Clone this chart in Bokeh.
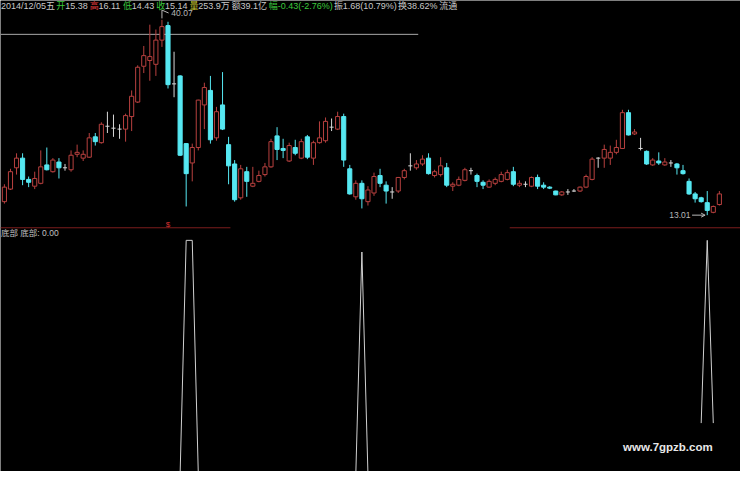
import numpy as np
from bokeh.plotting import figure
from bokeh.models import Range1d, Label, ColumnDataSource, Arrow, OpenHead
from bokeh.core.properties import value
from bokeh.embed import file_html
from bokeh.resources import INLINE

# ---------------- data ----------------
opens = [14.88, 16.62, 19.57, 20.91, 17.96, 17.02, 17.42, 19.97, 19.03, 20.37,
         19.57, 19.30, 21.44, 20.91, 21.04, 23.86, 23.05, 25.33, 25.06, 24.93,
         24.93, 26.67, 28.68, 33.64, 34.44, 33.91, 37.26, 39.27, 31.20, 32.30,
         22.92, 20.24, 22.38, 28.28, 30.29, 23.72, 28.28, 22.78, 20.10, 15.41,
         19.03, 17.02, 17.69, 18.63, 19.70, 23.99, 22.25, 20.51, 22.38, 20.91,
         23.86, 20.91, 23.05, 23.32, 25.20, 24.93, 26.67, 19.43, 15.55, 17.42,
         14.88, 16.08, 18.50, 17.16, 16.22, 16.35, 18.23, 19.84, 19.57, 20.10,
         20.91, 18.50, 18.63, 19.57, 17.02, 17.16, 17.83, 19.17, 18.50, 17.56,
         16.89, 17.42, 17.69, 17.96, 19.03, 17.16, 17.29, 17.02, 18.23, 17.16,
         16.89, 16.35, 15.82, 16.22, 16.35, 16.35, 16.89, 17.96, 20.91, 20.91,
         20.91, 21.71, 22.25, 27.21, 24.26, 22.25, 21.85, 19.97, 20.51, 19.97,
         20.24, 20.10, 19.17, 17.69, 15.95, 15.41, 14.74, 13.40, 14.48]
highs = [17.29, 19.43, 21.58, 21.58, 18.36, 19.03, 21.98, 22.38, 20.91, 20.91,
         20.10, 21.98, 22.78, 21.98, 24.39, 24.39, 25.87, 27.34, 26.94, 25.60,
         27.07, 30.29, 33.77, 36.45, 39.40, 38.73, 40.07, 39.80, 35.65, 32.40,
         23.00, 22.92, 29.00, 31.36, 32.30, 28.01, 32.83, 23.86, 20.64, 19.97,
         19.70, 19.70, 19.17, 20.24, 23.59, 25.20, 23.59, 23.05, 23.45, 23.59,
         24.12, 23.32, 26.00, 26.54, 26.40, 27.34, 27.07, 19.97, 17.83, 17.83,
         17.02, 18.90, 19.43, 17.69, 16.89, 18.30, 19.43, 21.58, 20.64, 21.31,
         21.58, 19.30, 21.04, 20.24, 17.56, 18.36, 19.57, 19.57, 18.76, 17.83,
         17.96, 18.23, 19.03, 19.30, 19.70, 17.83, 17.69, 18.36, 18.63, 17.56,
         17.02, 16.40, 16.35, 16.62, 16.62, 16.98, 18.63, 21.04, 21.04, 22.78,
         22.65, 23.45, 27.61, 27.61, 24.93, 23.72, 21.98, 20.91, 21.71, 20.91,
         20.64, 20.24, 19.97, 18.09, 16.22, 15.55, 16.35, 14.34, 16.35]
lows = [14.61, 16.50, 18.63, 17.16, 16.89, 16.62, 17.29, 19.20, 18.90, 18.09,
        19.17, 19.03, 21.04, 20.51, 20.95, 22.65, 22.92, 24.39, 23.86, 23.59,
        23.19, 24.66, 28.55, 32.70, 31.63, 32.30, 36.32, 30.56, 29.35, 21.20,
        14.21, 17.69, 21.98, 24.93, 22.92, 23.32, 24.80, 17.29, 14.88, 15.15,
        15.55, 16.89, 17.56, 18.36, 19.57, 20.64, 20.91, 20.37, 21.31, 20.77,
        20.77, 19.97, 22.92, 23.05, 24.66, 24.80, 19.70, 15.85, 15.15, 13.94,
        14.34, 15.68, 16.89, 14.61, 15.28, 16.08, 17.96, 19.17, 19.30, 19.84,
        18.63, 18.23, 18.36, 16.89, 16.35, 17.02, 17.69, 18.63, 16.89, 16.62,
        16.80, 17.16, 17.56, 17.83, 17.02, 16.89, 16.89, 16.89, 16.62, 16.62,
        16.62, 15.77, 15.68, 15.82, 16.22, 16.22, 16.75, 17.83, 19.57, 19.57,
        19.97, 21.44, 22.20, 24.05, 24.12, 21.98, 19.97, 19.84, 19.97, 19.84,
        19.70, 18.63, 18.63, 15.82, 14.75, 14.75, 13.01, 13.27, 14.34]
closes = [16.89, 19.03, 20.91, 17.96, 17.56, 18.09, 19.70, 19.30, 20.64, 19.57,
          19.57, 21.31, 21.71, 21.44, 23.72, 23.19, 25.60, 25.33, 25.06, 24.93,
          26.80, 29.48, 33.50, 35.11, 34.98, 37.26, 39.13, 31.09, 31.20, 21.31,
          18.76, 22.38, 28.95, 30.69, 23.45, 27.34, 24.93, 19.84, 15.15, 19.43,
          17.69, 17.42, 18.50, 19.70, 23.19, 22.11, 21.98, 22.65, 21.58, 23.19,
          21.04, 23.05, 23.72, 26.00, 25.20, 26.67, 20.64, 15.95, 17.42, 15.28,
          16.49, 18.36, 17.42, 16.35, 16.22, 18.23, 19.17, 19.84, 20.10, 20.77,
          18.76, 19.03, 19.84, 17.16, 17.29, 17.96, 19.30, 19.17, 17.69, 17.16,
          17.69, 17.96, 18.63, 18.90, 17.29, 17.42, 17.29, 18.23, 17.02, 16.89,
          16.75, 15.82, 16.22, 16.22, 16.35, 16.89, 18.36, 20.77, 20.91, 22.11,
          21.71, 22.38, 27.21, 24.12, 24.53, 22.25, 20.10, 20.64, 20.24, 20.37,
          20.24, 19.57, 18.76, 15.95, 15.28, 14.88, 13.67, 14.21, 15.95]

nan = float("nan")
# "底部" indicator, one value per bar (nan = not drawn)
bottom_signal = [0.0] * 30 + [100.0, 100.0] + [0.0] * 27 + [95.0] + [0.0] * 54 + \
                [nan, 21.6, 100.0, 21.6, nan]

high_label = "40.07"
low_label = "13.01"
indicator_label = "底部  底部: 0.00"
info_pieces = [
    ("2014/12/05五 ", "#c8c8c8"), ("开", "#3cc83c"), ("15.38 ", "#c8c8c8"),
    ("高", "#e03c3c"), ("16.11 ", "#c8c8c8"), ("低", "#3cc83c"), ("14.43 ", "#c8c8c8"),
    ("收", "#3cc83c"), ("15.14 ", "#c8c8c8"), ("量", "#c8c832"), ("253.9万 ", "#c8c8c8"),
    ("额", "#c8c8c8"), ("39.1亿 ", "#c8c8c8"), ("幅", "#3cc83c"), ("-0.43(-2.76%) ", "#3cc83c"),
    ("振", "#c8c8c8"), ("1.68(10.79%) ", "#c8c8c8"), ("换", "#c8c8c8"), ("38.62% ", "#c8c8c8"),
    ("流通", "#c8c8c8"),
]
watermark = "www.7gpzb.com"
drawn_line_price = 38.06     # grey drawn line
drawn_line_end_bar = 69.3
event_bar = 28               # red "$" mark

# ---------------- layout ----------------
W, H = 740, 471
REF_W, REF_H = 756, 487
SX, SY = W / REF_W, H / REF_H
XMIN, XMAX = 0.354, 122.49
YMIN, YMAX = -22.51, 42.75
split_price = 11.26

RED = "#b8403f"
CYAN = "#56e8f2"
WHITE = "#d8d8d8"
GREY = "#b8b8b8"
FONT = "Liberation Sans, Noto Sans CJK SC"

n = len(closes)
bars = np.arange(1, n + 1)
o = np.array(opens); h = np.array(highs); l = np.array(lows); c = np.array(closes)
up = c > o
down = c < o
flat = c == o

p = figure(width=W, height=H, output_backend="svg", toolbar_location=None,
           x_range=Range1d(XMIN, XMAX), y_range=Range1d(YMIN, YMAX),
           x_axis_location=None, y_axis_location=None,
           background_fill_color="black", border_fill_color="black",
           min_border=0, outline_line_color=None)
p.grid.visible = False
p.extra_y_ranges = {"ind": Range1d(0.83, 202.9)}

# separator between the panes
p.segment(x0=[XMIN, 84.4], x1=[38.3, XMAX], y0=[split_price] * 2, y1=[split_price] * 2,
          line_color="#7d1d1d", line_width=1)
# drawn grey line
p.segment(x0=[XMIN], x1=[drawn_line_end_bar], y0=[drawn_line_price], y1=[drawn_line_price],
          line_color="#a8a8a8", line_width=1)

# wicks
wick_colors = np.where(up, RED, np.where(down, CYAN, WHITE))
p.segment(source=ColumnDataSource(dict(x=bars, lo=l, hi=h, col=wick_colors)),
          x0="x", x1="x", y0="lo", y1="hi", line_color="col", line_width=1)
# bodies
BW = 0.68
p.vbar(x=bars[up], bottom=o[up], top=c[up], width=BW,
       fill_color="black", line_color=RED, line_width=1)
p.vbar(x=bars[down], bottom=c[down], top=o[down], width=BW,
       fill_color=CYAN, line_color=CYAN, line_width=1)
p.segment(x0=bars[flat] - BW / 2, x1=bars[flat] + BW / 2, y0=o[flat], y1=o[flat],
          line_color=WHITE, line_width=1)

# high / low markers
hi_i = int(np.argmax(h)); lo_i = int(np.argmin(l))
hx = bars[hi_i]; hy = h[hi_i]
p.line(x=[hx, hx, hx + 1.1], y=[hy + 0.2, hy + 1.35, hy + 0.95], line_color=GREY, line_width=1)
p.text(x=[hx + 1.55], y=[hy + 0.95], text=[high_label], text_color=GREY,
       text_font=value("Liberation Sans"), text_font_size="8.5px",
       text_align="left", text_baseline="middle")
lx = bars[lo_i]; ly = l[lo_i]
p.text(x=[lx - 2.75], y=[ly], text=[low_label], text_color=GREY,
       text_font=value("Liberation Sans"), text_font_size="8.5px",
       text_align="right", text_baseline="middle")
p.add_layout(Arrow(x_start=lx - 2.5, y_start=ly, x_end=lx - 0.35, y_end=ly,
                   line_color=GREY, line_width=1,
                   end=OpenHead(size=4, line_color=GREY, line_width=1)))
p.text(x=[event_bar], y=[split_price + 0.4], text=["$"], text_color="#d83030",
       text_font=value("Liberation Sans"), text_font_size="8px",
       text_align="center", text_baseline="middle")

# indicator
p.line(x=bars, y=np.array(bottom_signal), y_range_name="ind",
       line_color="#d0d0d0", line_width=1)


def sx(rx):
    return rx * SX


def sy(ry):
    return H - ry * SY


def em_width(s):
    w = 0.0
    for ch in s:
        if ord(ch) > 0x2E80:
            w += 1.0
        elif ch.isdigit():
            w += 0.556
        elif ch in ".:/ ":
            w += 0.278
        elif ch in "-()":
            w += 0.333
        elif ch == "%":
            w += 0.889
        else:
            w += 0.556
    return w


FS = 9.0
xpos = 0.5
for txt, col in info_pieces:
    p.add_layout(Label(x=sx(xpos), y=sy(6), x_units="screen", y_units="screen",
                       text=txt, text_color=col, text_font=FONT,
                       text_font_size=f"{FS}px", text_baseline="middle"))
    xpos += em_width(txt) * FS

p.add_layout(Label(x=sx(0.5), y=sy(240), x_units="screen", y_units="screen",
                   text=indicator_label, text_color="#c0c0c0", text_font=FONT,
                   text_font_size="8.5px", text_baseline="middle"))
p.add_layout(Label(x=sx(636), y=sy(462), x_units="screen", y_units="screen",
                   text=watermark, text_color="#e8e8e8", text_font="Liberation Sans",
                   text_font_size="11.5px", text_font_style="bold", text_baseline="middle"))

open("out.html", "w").write(file_html(p, INLINE))
